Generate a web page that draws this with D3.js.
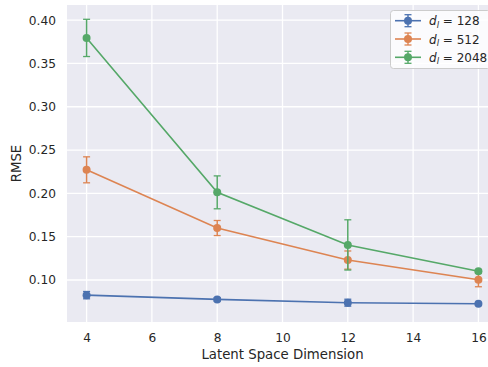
<!DOCTYPE html>
<html>
<head>
<meta charset="utf-8">
<script src="https://cdn.jsdelivr.net/npm/d3@7/dist/d3.min.js"></script>
<style>
  html, body { margin: 0; padding: 0; background: #ffffff; }
  svg { display: block; font-family: "DejaVu Sans", sans-serif; }
</style>
</head>
<body>
<svg id="chart" width="488" height="367"></svg>
<script>
// Latent space dimensions on the x axis
const dims = [4, 8, 12, 16];

// RMSE means and standard deviations for each d_l
const seriesNames = ["128", "512", "2048"];
const rmse128 = [0.0825, 0.0776, 0.0738, 0.0725];
const err128  = [0.0042, 0.0020, 0.0040, 0.0015];
const rmse512 = [0.2272, 0.1600, 0.1230, 0.1002];
const err512  = [0.0150, 0.0087, 0.0105, 0.0080];
const rmse2048 = [0.3795, 0.2012, 0.1405, 0.1100];
const err2048  = [0.0215, 0.0190, 0.0290, 0.0020];

const colors = ["#4C72B0", "#DD8452", "#55A868"];

const xTicks = [4, 6, 8, 10, 12, 14, 16];
const yTicks = [0.10, 0.15, 0.20, 0.25, 0.30, 0.35, 0.40];

const series = [
  { name: seriesNames[0], mean: rmse128, err: err128, color: colors[0] },
  { name: seriesNames[1], mean: rmse512, err: err512, color: colors[1] },
  { name: seriesNames[2], mean: rmse2048, err: err2048, color: colors[2] }
];

const svg = d3.select("#chart");
const plotL = 67, plotR = 498, plotT = 5, plotB = 322;

const x = d3.scaleLinear().domain([3.4, 16.6]).range([plotL, plotR]);
const y = d3.scaleLinear().domain([0.0515, 0.4175]).range([plotB, plotT]);

const textColor = "#262626";

// plot background
svg.append("rect")
  .attr("x", plotL).attr("y", plotT)
  .attr("width", plotR - plotL).attr("height", plotB - plotT)
  .attr("fill", "#EAEAF2");

// grid lines
const grid = svg.append("g");
grid.selectAll(".gx").data(xTicks).enter().append("line")
  .attr("x1", d => x(d)).attr("x2", d => x(d))
  .attr("y1", plotT).attr("y2", plotB)
  .attr("stroke", "#ffffff").attr("stroke-width", 1.3);
grid.selectAll(".gy").data(yTicks).enter().append("line")
  .attr("x1", plotL).attr("x2", plotR)
  .attr("y1", d => y(d)).attr("y2", d => y(d))
  .attr("stroke", "#ffffff").attr("stroke-width", 1.3);

// axes (labels only, seaborn style without tick marks or spines)
const xAxis = d3.axisBottom(x).tickValues(xTicks).tickFormat(d3.format("d")).tickSize(0).tickPadding(11);
const gx = svg.append("g").attr("transform", `translate(0,${plotB})`).call(xAxis);
gx.select(".domain").remove();
gx.selectAll("text").attr("fill", textColor).style("font-size", "12.2px").style("font-family", "DejaVu Sans");

const yAxis = d3.axisLeft(y).tickValues(yTicks).tickFormat(d3.format(".2f")).tickSize(0).tickPadding(11);
const gy = svg.append("g").attr("transform", `translate(${plotL},0)`).call(yAxis);
gy.select(".domain").remove();
gy.selectAll("text").attr("fill", textColor).style("font-size", "12.2px").style("font-family", "DejaVu Sans");

// axis titles
svg.append("text")
  .attr("x", (plotL + plotR) / 2).attr("y", 359)
  .attr("text-anchor", "middle")
  .attr("fill", textColor).style("font-size", "13.3px")
  .text("Latent Space Dimension");
svg.append("text")
  .attr("transform", `translate(21,${(plotT + plotB) / 2}) rotate(-90)`)
  .attr("text-anchor", "middle")
  .attr("fill", textColor).style("font-size", "13.3px")
  .text("RMSE");

// series: lines, error bars, markers
const line = d3.line().x((d, i) => x(dims[i])).y(d => y(d));
const cap = 3.5;
series.forEach(s => {
  const g = svg.append("g");
  g.append("path")
    .attr("d", line(s.mean))
    .attr("fill", "none").attr("stroke", s.color).attr("stroke-width", 1.6);
  s.mean.forEach((m, i) => {
    const cx = x(dims[i]);
    const y0 = y(m - s.err[i]), y1 = y(m + s.err[i]);
    g.append("line").attr("x1", cx).attr("x2", cx).attr("y1", y0).attr("y2", y1)
      .attr("stroke", s.color).attr("stroke-width", 1.5);
    [y0, y1].forEach(yy => g.append("line")
      .attr("x1", cx - cap).attr("x2", cx + cap).attr("y1", yy).attr("y2", yy)
      .attr("stroke", s.color).attr("stroke-width", 1.3));
    g.append("circle").attr("cx", cx).attr("cy", y(m)).attr("r", 4).attr("fill", s.color);
  });
});

// legend
const lg = svg.append("g");
lg.append("rect")
  .attr("x", 390.5).attr("y", 10.5).attr("width", 100).attr("height", 58)
  .attr("rx", 3).attr("fill", "#ffffff").attr("fill-opacity", 0.8)
  .attr("stroke", "#cccccc").attr("stroke-width", 1);
series.forEach((s, i) => {
  const cy = 20.7 + i * 18.3;
  lg.append("line").attr("x1", 395).attr("x2", 421).attr("y1", cy).attr("y2", cy)
    .attr("stroke", s.color).attr("stroke-width", 1.6);
  lg.append("line").attr("x1", 408).attr("x2", 408).attr("y1", cy - 6).attr("y2", cy + 6)
    .attr("stroke", s.color).attr("stroke-width", 1.4);
  [cy - 6, cy + 6].forEach(yy => lg.append("line")
    .attr("x1", 408 - cap).attr("x2", 408 + cap).attr("y1", yy).attr("y2", yy)
    .attr("stroke", s.color).attr("stroke-width", 1.3));
  lg.append("circle").attr("cx", 408).attr("cy", cy).attr("r", 4).attr("fill", s.color);
  const t = lg.append("text").attr("x", 429).attr("y", cy + 4.5)
    .attr("fill", textColor).style("font-size", "12px");
  t.append("tspan").attr("font-style", "italic").text("d");
  t.append("tspan").attr("font-style", "italic").attr("dy", 2.5).style("font-size", "8.5px").text("l");
  t.append("tspan").attr("dy", -2.5).text(" = " + s.name);
});
</script>
</body>
</html>
